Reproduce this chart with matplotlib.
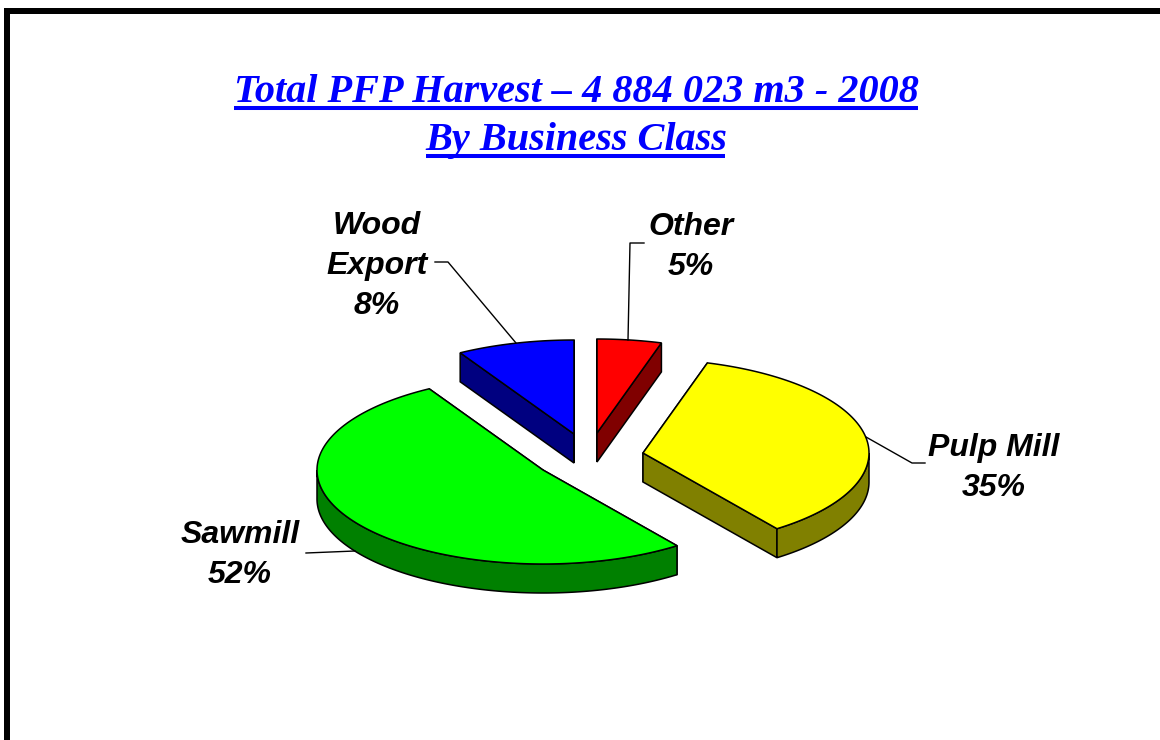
import numpy as np
import matplotlib
matplotlib.use('Agg')
import matplotlib.pyplot as plt
from matplotlib.patches import Polygon, Rectangle

# chart values, the labels show them rounded
labels = ['Other', 'Pulp Mill', 'Sawmill', 'Wood\nExport']
percent = [4.6, 35.3, 51.7, 8.4]
top_colors = ['#ff0000', '#ffff00', '#00ff00', '#0000ff']
side_colors = ['#800000', '#808000', '#008000', '#000080']
title_lines = ['Total PFP Harvest \u2013 4 884 023 m3 - 2008', 'By Business Class']

# pie layout, in pixels of the 1160x740 picture
apex = [(597, 433), (643, 453), (543, 470), (574, 434)]
rx, ry, depth = 226, 94, 29


def rim(a0, a1):
    # outer edge of a slice, angles clockwise from 12 o'clock
    t = np.radians(np.linspace(a0, a1, 200))
    return rx * np.sin(t), -ry * np.cos(t)


fig = plt.figure(figsize=(11.6, 7.4), dpi=100)
ax = fig.add_axes([0, 0, 1, 1])
ax.set_xlim(0, 1160)
ax.set_ylim(740, 0)
ax.axis('off')

# frame: only top and left edges are inside the picture
ax.add_patch(Rectangle((4, 8), 1156, 6, color='k', lw=0))
ax.add_patch(Rectangle((4, 8), 6, 732, color='k', lw=0))

# cumulative angles come from the values
ends = np.cumsum(percent) * 3.6
starts = np.concatenate([[0], ends[:-1]])

for i in [3, 0, 1, 2]:
    cx, cy = apex[i]
    x, y = rim(starts[i], ends[i])
    x = x + cx
    y = y + cy
    # side walls first
    walls = [
        [(cx, cy), (x[0], y[0]), (x[0], y[0] + depth), (cx, cy + depth)],
        [(cx, cy), (x[-1], y[-1]), (x[-1], y[-1] + depth), (cx, cy + depth)],
    ]
    for w in walls:
        ax.add_patch(Polygon(w, fc=side_colors[i], ec='k', lw=1.1))
    # outer wall, only the part facing the viewer
    a0 = max(starts[i], 90)
    a1 = min(ends[i], 270)
    if a1 > a0:
        xo, yo = rim(a0, a1)
        xo = xo + cx
        yo = yo + cy
        pts = np.vstack([np.column_stack([xo, yo]),
                         np.column_stack([xo, yo + depth])[::-1]])
        ax.add_patch(Polygon(pts, fc=side_colors[i], ec='k', lw=1.1))
    top = np.vstack([[(cx, cy)], np.column_stack([x, y])])
    ax.add_patch(Polygon(top, fc=top_colors[i], ec='k', lw=1.1))

# title, with its underlines
title_y = [102, 150]
under_y = [108, 156]
under_x = [(234, 918), (426, 725)]
for i in range(2):
    ax.text(576, title_y[i], title_lines[i], color='#0000ff', fontsize=29,
            family='Liberation Serif', style='italic', weight='bold',
            ha='center', va='baseline')
    ax.plot(under_x[i], [under_y[i], under_y[i]], color='#0000ff', lw=2.9,
            solid_capstyle='butt')

# labels
label_pos = [(691, 247), (994, 468), (240, 555), (377, 266)]
for i, name in enumerate(labels):
    ax.text(label_pos[i][0], label_pos[i][1], '%s\n%.0f%%' % (name, percent[i]),
            fontsize=23, family='Liberation Sans', style='italic', weight='bold',
            ha='center', va='center', color='k', linespacing=1.42)

# leader lines
leaders = [
    [(628, 340), (630, 243), (644, 243)],
    [(866, 437), (912, 463), (925, 463)],
    [(355, 551), (306, 553)],
    [(516, 343), (448, 262), (435, 262)],
]
for line in leaders:
    ax.plot([p[0] for p in line], [p[1] for p in line], color='k', lw=1.0)

fig.savefig('out.png', dpi=100)
